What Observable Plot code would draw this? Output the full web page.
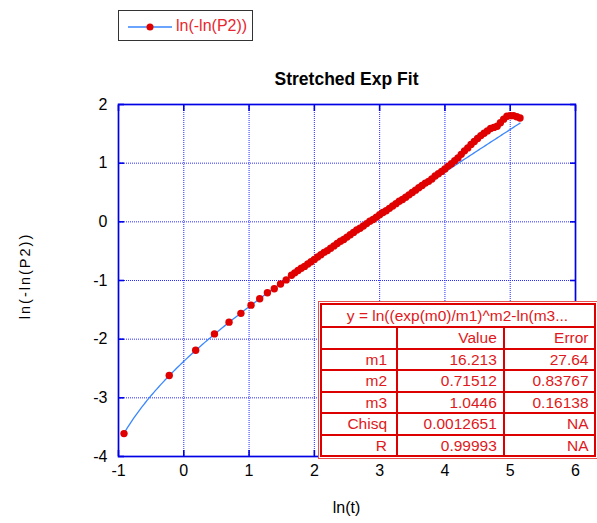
<!DOCTYPE html>
<html><head><meta charset="utf-8">
<script src="https://cdn.jsdelivr.net/npm/d3@7"></script>
<script src="https://cdn.jsdelivr.net/npm/@observablehq/plot@0.6"></script>
<style>
html,body{margin:0;padding:0;background:#fff;}
body{font-family:"Liberation Sans",Arial,Helvetica,sans-serif;}
#wrap{position:relative;width:597px;height:523px;overflow:hidden;background:#fff;}
#wrap svg.plot{position:absolute;left:0;top:0;}
.abs{position:absolute;white-space:nowrap;line-height:1;}
#legend{left:118px;top:10px;width:133px;height:29px;border:1.5px solid #333;background:#fff;}
#legend svg{position:absolute;left:8px;top:7px;}
#legend span{position:absolute;left:57px;top:7px;font-size:16px;color:#e8262e;}
#title{left:346.5px;top:71px;transform:translateX(-50%);font-size:17.5px;font-weight:bold;color:#000;}
#xlabel{left:346.5px;top:500px;transform:translateX(-50%);font-size:16px;color:#000;}
#ylabel{left:25px;top:276px;transform:translate(-50%,-50%) rotate(-90deg);font-size:14.5px;letter-spacing:2px;color:#000;}
#tblbox{left:317.5px;top:301px;width:276px;height:154px;border:1px solid #e85050;padding:1px;background:#fff;}
#tblbox table{border-collapse:collapse;width:100%;height:100%;font-size:15.5px;color:#e01820;}
#tblbox td{border:2px solid #dd0000;padding:0 5px 0 0;text-align:right;vertical-align:middle;line-height:1;}
#tblbox td.c1{padding-right:9px;}
#tblbox td.c2{padding-right:6px;}
#tblbox td.hd{text-align:center;padding:0;}
</style></head>
<body><div id="wrap"></div>
<script>
// ---- data ----
const lnT = [
  -0.916, -0.223, 0.182, 0.470, 0.693, 0.875, 1.030, 1.163, 1.281, 1.386, 1.482, 1.569,
  1.65, 1.70, 1.75, 1.80, 1.85, 1.90, 1.95, 2.00, 2.05, 2.10, 2.15, 2.20, 2.25, 2.30,
  2.35, 2.40, 2.45, 2.50, 2.55, 2.60, 2.65, 2.70, 2.75, 2.80, 2.85, 2.90, 2.95, 3.00,
  3.05, 3.10, 3.15, 3.20, 3.25, 3.30, 3.35, 3.40, 3.45, 3.50, 3.55, 3.60, 3.65, 3.70,
  3.75, 3.80, 3.85, 3.90, 3.95, 4.00, 4.05, 4.10, 4.15, 4.20, 4.25, 4.30, 4.35, 4.40,
  4.45, 4.50, 4.55, 4.60, 4.65, 4.70, 4.75, 4.80, 4.85, 4.90, 4.95, 5.00, 5.05, 5.10, 5.15
];
const lnLnP2 = [
  -3.61, -2.62, -2.19, -1.91, -1.71, -1.56, -1.42, -1.31, -1.21, -1.14, -1.06, -0.99,
  -0.91, -0.87, -0.83, -0.79, -0.76, -0.72, -0.68, -0.64, -0.60, -0.56, -0.52, -0.49, -0.45, -0.41,
  -0.37, -0.33, -0.30, -0.26, -0.22, -0.18, -0.14, -0.11, -0.07, -0.03, 0.01, 0.04, 0.08, 0.12,
  0.16, 0.19, 0.23, 0.27, 0.31, 0.35, 0.38, 0.42, 0.46, 0.50, 0.54, 0.58, 0.62, 0.66,
  0.69, 0.73, 0.78, 0.82, 0.86, 0.90, 0.95, 0.99, 1.04, 1.09, 1.15, 1.21, 1.26, 1.32,
  1.37, 1.42, 1.47, 1.51, 1.55, 1.59, 1.61, 1.63, 1.69, 1.75, 1.80, 1.81, 1.81, 1.79, 1.77
];
const xTicks = [-1, 0, 1, 2, 3, 4, 5, 6];
const yTicks = [-4, -3, -2, -1, 0, 1, 2];
const seriesName = "ln(-ln(P2))";
const chartTitle = "Stretched Exp Fit";
const xLabel = "ln(t)";
const yLabel = "ln(-ln(P2))";
// fit table
const fitFormula = "y = ln((exp(m0)/m1)^m2-ln(m3...";
const tableHeader = ["", "Value", "Error"];
const paramNames = ["m1", "m2", "m3"];
const paramValues = [16.213, 0.71512, 1.0446];
const paramErrors = [27.64, 0.83767, 0.16138];
const statNames = ["Chisq", "R"];
const statValues = [0.0012651, 0.99993];
const statErrors = ["NA", "NA"];

// ---- build ----
const pts = lnT.map((x, i) => ({x, y: lnLnP2[i]}));
const [m1, m2, m3] = paramValues;
const x0 = d3.min(lnT), x1 = d3.max(lnT);
const fit = d3.range(241).map(i => {
  const x = x0 + (x1 - x0) * i / 240;
  return {x, y: Math.log(Math.pow(Math.exp(x) / m1, m2) - Math.log(m3))};
});

const frameBlue = "#0000e6";
const gridBlue = "#2a2aff";
const red = "#e00000";
const fitBlue = "#3a86ff";
const fmt = d => String(d);

const plot = Plot.plot({
  width: 597, height: 523,
  marginLeft: 118, marginRight: 22, marginTop: 104, marginBottom: 67,
  x: {domain: [-1, 6]},
  y: {domain: [-4, 2]},
  style: {fontFamily: '"Liberation Sans", Arial, sans-serif', fontSize: "16px", color: "#000", background: "transparent", overflow: "visible"},
  marks: [
    Plot.gridX(xTicks, {stroke: gridBlue, strokeOpacity: 1, strokeWidth: 1, strokeDasharray: "1,1"}),
    Plot.gridY(yTicks, {stroke: gridBlue, strokeOpacity: 1, strokeWidth: 1, strokeDasharray: "1,1"}),
    Plot.axisX(xTicks, {anchor: "bottom", tickSize: 0, tickPadding: 8, label: null, fontSize: 16, fill: "#000", tickFormat: fmt}),
    Plot.axisY(yTicks, {anchor: "left", tickSize: 0, tickPadding: 11, label: null, fontSize: 16, fill: "#000", tickFormat: fmt}),
    Plot.axisX(xTicks, {anchor: "bottom", tickSize: -6, text: null, label: null, stroke: frameBlue, strokeWidth: 1.6}),
    Plot.axisX(xTicks, {anchor: "top", tickSize: -6, text: null, label: null, stroke: frameBlue, strokeWidth: 1.6}),
    Plot.axisY(yTicks, {anchor: "left", tickSize: -6, text: null, label: null, stroke: frameBlue, strokeWidth: 1.6}),
    Plot.axisY(yTicks, {anchor: "right", tickSize: -6, text: null, label: null, stroke: frameBlue, strokeWidth: 1.6}),
    Plot.frame({stroke: frameBlue, strokeWidth: 1.7}),
    Plot.line(fit, {x: "x", y: "y", stroke: fitBlue, strokeWidth: 1.3}),
    Plot.dot(pts, {x: "x", y: "y", r: 3.7, fill: red, stroke: "none"})
  ]
});
plot.classList.add("plot");
const wrap = document.getElementById("wrap");
wrap.appendChild(plot);

function addDiv(id, text) {
  const d = document.createElement("div");
  d.id = id; d.className = "abs"; if (text != null) d.textContent = text;
  wrap.appendChild(d); return d;
}
addDiv("title", chartTitle);
addDiv("xlabel", xLabel);
addDiv("ylabel", yLabel);

// legend
const lg = addDiv("legend");
const ns = "http://www.w3.org/2000/svg";
const sw = document.createElementNS(ns, "svg");
sw.setAttribute("width", "46"); sw.setAttribute("height", "18");
const ln = document.createElementNS(ns, "line");
ln.setAttribute("x1", "1"); ln.setAttribute("x2", "45"); ln.setAttribute("y1", "9"); ln.setAttribute("y2", "9");
ln.setAttribute("stroke", fitBlue); ln.setAttribute("stroke-width", "1.3");
const dt = document.createElementNS(ns, "circle");
dt.setAttribute("cx", "23"); dt.setAttribute("cy", "9"); dt.setAttribute("r", "3.5"); dt.setAttribute("fill", red);
sw.appendChild(ln); sw.appendChild(dt); lg.appendChild(sw);
const ls = document.createElement("span"); ls.textContent = seriesName; lg.appendChild(ls);

// fit table
const tb = addDiv("tblbox");
const table = document.createElement("table");
const cg = document.createElement("colgroup");
[76, 106, 90].forEach(w => { const c = document.createElement("col"); c.style.width = w + "px"; cg.appendChild(c); });
table.appendChild(cg);
function row(cells, hd) {
  const tr = document.createElement("tr");
  if (hd) {
    const td = document.createElement("td"); td.colSpan = 3; td.className = "hd"; td.textContent = cells; tr.appendChild(td);
    tr.style.height = "23px";
  } else {
    cells.forEach((c, i) => { const td = document.createElement("td"); td.className = "c" + (i + 1); td.textContent = String(c); tr.appendChild(td); });
  }
  table.appendChild(tr);
}
row(fitFormula, true);
row(tableHeader);
paramNames.forEach((n, i) => row([n, paramValues[i], paramErrors[i]]));
statNames.forEach((n, i) => row([n, statValues[i], statErrors[i]]));
tb.appendChild(table);
</script>
</body></html>
